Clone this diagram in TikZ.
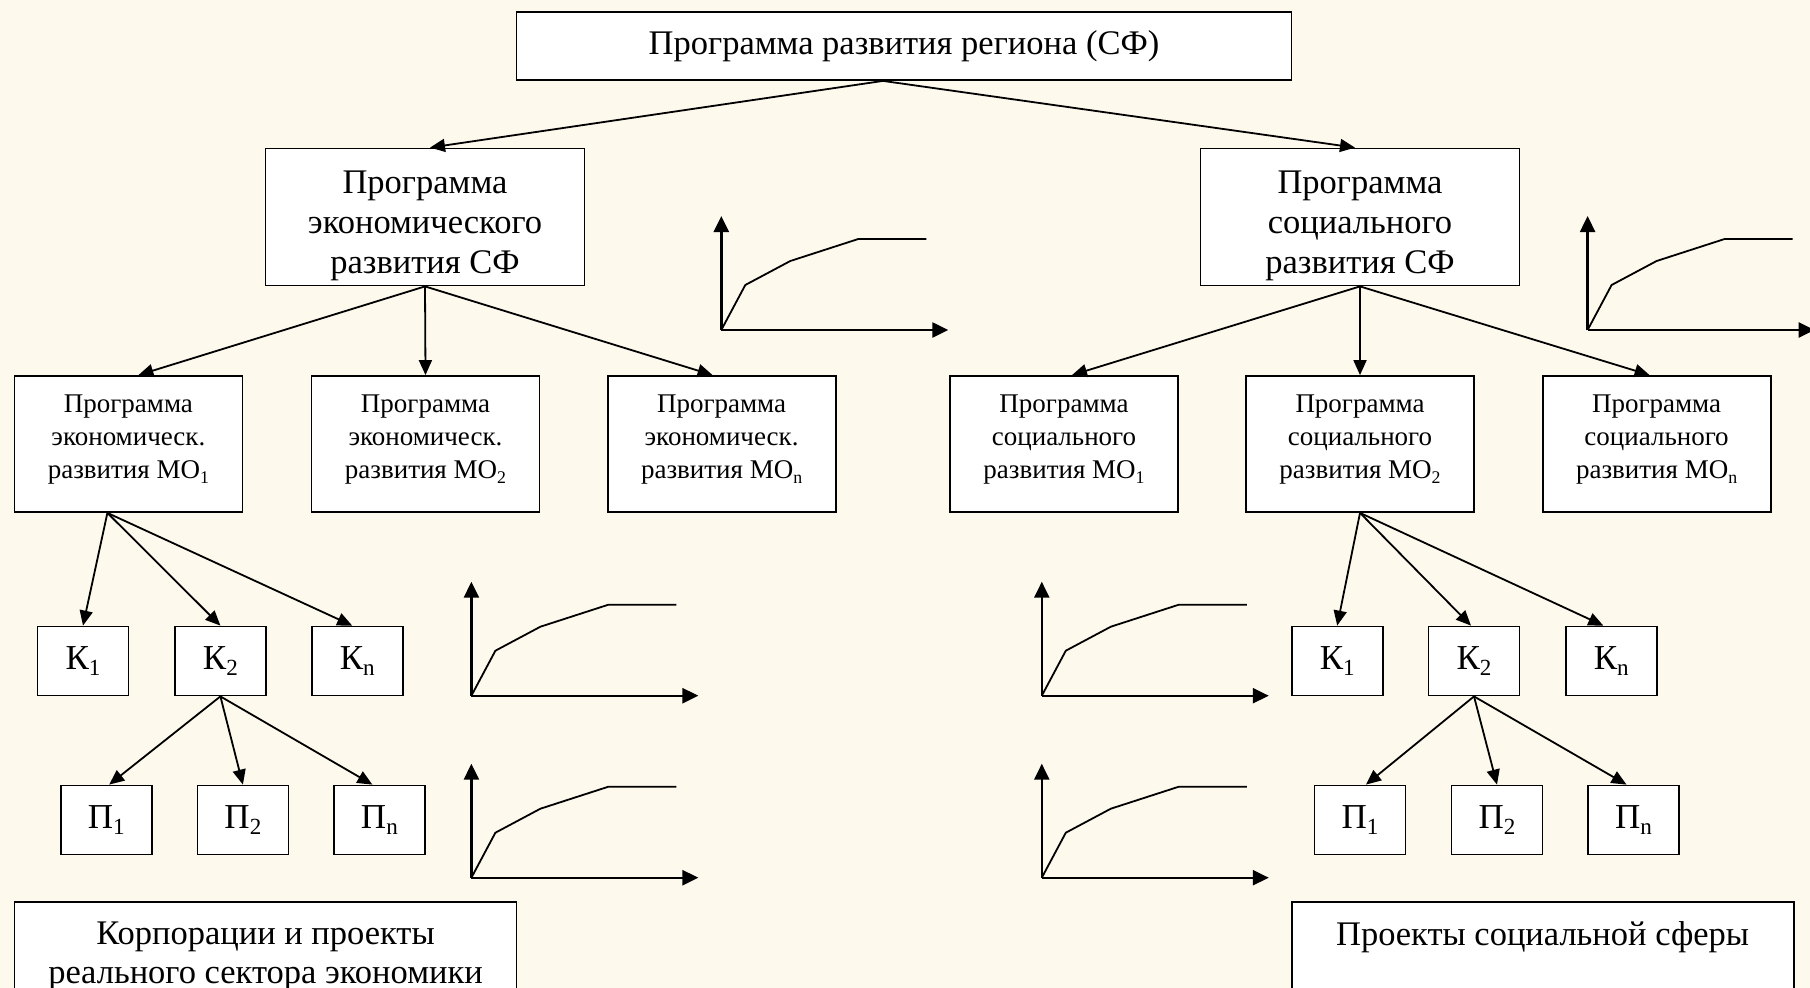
\documentclass[tikz,border=0pt]{standalone}
\usepackage{fontspec}
\setmainfont{Liberation Serif}
\usetikzlibrary{arrows.meta}
\definecolor{paper}{RGB}{253,249,237}
\newcommand{\idx}[1]{\raisebox{-0.18em}{\scalebox{0.66}{#1}}}
\newcommand{\topgap}{\rule{0pt}{40pt}}
\newcommand{\botgap}{\rule[-15pt]{0pt}{15pt}}
\tikzset{
  box/.style={draw, fill=white, line width=1.8pt, inner sep=0pt, align=center},
  bigbox/.style={box, font=\fontsize{34.5}{40}\selectfont},
  mobox/.style={box, minimum width=228pt, minimum height=136pt, font=\fontsize{27}{33}\selectfont},
  kbox/.style={box, minimum width=91pt, minimum height=69pt, font=\fontsize{35}{40}\selectfont},
  link/.style={line width=1.8pt, -{Triangle[length=15pt,width=13pt]}},
  growth/.pic={
    \draw[line width=2.4pt, -{Triangle[length=16pt,width=15pt]}] (0,0) -- (0,-114);
    \draw[line width=2.4pt, -{Triangle[length=16pt,width=15pt]}] (0,0) -- (227,0);
    \draw[line width=1.8pt] (0,0) -- (24,-45) -- (69,-69) -- (137,-91) -- (205,-91);
  }
}
\begin{document}
\begin{tikzpicture}[x=1pt,y=-1pt]
      \useasboundingbox (0,0) rectangle (1810,988);
      \clip (0,0) rectangle (1810,988);
      \fill[paper] (0,0) rectangle (1810,988);
      \node[bigbox, minimum width=775pt, minimum height=68pt] (region) at (904,46) {Программа развития региона (СФ)};
      \node[bigbox, minimum width=319pt, minimum height=137pt] (econ) at (425,217) {\topgap Программа\\экономического\\развития СФ};
      \node[bigbox, minimum width=319pt, minimum height=137pt] (soc) at (1360,217) {\topgap Программа\\социального\\развития СФ};
      \node[mobox] (emo1) at (128.4,444) {Программа\\экономическ.\\развития МО\idx{1}\botgap};
      \node[mobox] (emo2) at (425.5,444) {Программа\\экономическ.\\развития МО\idx{2}\botgap};
      \node[mobox] (emon) at (721.6,444) {Программа\\экономическ.\\развития МО\idx{n}\botgap};
      \node[mobox] (smo1) at (1064,444) {Программа\\социального\\развития МО\idx{1}\botgap};
      \node[mobox] (smo2) at (1360,444) {Программа\\социального\\развития МО\idx{2}\botgap};
      \node[mobox] (smon) at (1656.6,444) {Программа\\социального\\развития МО\idx{n}\botgap};
      \node[kbox] (ek1) at (83,661) {К\idx{1}};
      \node[kbox] (ek2) at (220.4,661) {К\idx{2}};
      \node[kbox] (ekn) at (357.2,661) {К\idx{n}};
      \node[kbox] (sk1) at (1337.2,661) {К\idx{1}};
      \node[kbox] (sk2) at (1474,661) {К\idx{2}};
      \node[kbox] (skn) at (1611.3,661) {К\idx{n}};
      \node[kbox] (ep1) at (106.2,820) {П\idx{1}};
      \node[kbox] (ep2) at (242.9,820) {П\idx{2}};
      \node[kbox] (epn) at (379.4,820) {П\idx{n}};
      \node[kbox] (sp1) at (1360,820) {П\idx{1}};
      \node[kbox] (sp2) at (1497,820) {П\idx{2}};
      \node[kbox] (spn) at (1633.5,820) {П\idx{n}};
      \node[bigbox, anchor=north, minimum width=502pt, inner ysep=20pt, font=\fontsize{34.5}{38.5}\selectfont] (corp) at (265.5,901) {Корпорации и проекты\\реального сектора экономики};
      \node[bigbox, anchor=north, minimum width=502pt, inner ysep=20pt, text depth=80pt] (socproj) at (1542.6,901) {Проекты социальной сферы};
      \begin{scope}[link]
        \draw ([xshift=-21pt]region.south) to ([xshift=5pt]econ.north);
        \draw ([xshift=-21pt]region.south) to ([xshift=-5pt]soc.north);
        \draw (econ.south) to ([xshift=10pt]emo1.north);
        \draw (econ.south) to (emo2.north);
        \draw (econ.south) to ([xshift=-9pt]emon.north);
        \draw (soc.south) to ([xshift=8pt]smo1.north);
        \draw (soc.south) to (smo2.north);
        \draw (soc.south) to ([xshift=-7pt]smon.north);
        \draw ([xshift=-21pt]emo1.south) to (ek1.north);
        \draw ([xshift=-21pt]emo1.south) to (ek2.north);
        \draw ([xshift=-21pt]emo1.south) to ([xshift=-5pt]ekn.north);
        \draw (smo2.south) to (sk1.north);
        \draw (smo2.south) to ([xshift=-3pt]sk2.north);
        \draw (smo2.south) to ([xshift=-8pt]skn.north);
        \draw (ek2.south) to ([xshift=3pt]ep1.north);
        \draw (ek2.south) to (ep2.north);
        \draw (ek2.south) to ([xshift=-7pt]epn.north);
        \draw (sk2.south) to ([xshift=6pt]sp1.north);
        \draw (sk2.south) to (sp2.north);
        \draw (sk2.south) to ([xshift=-7pt]spn.north);
      \end{scope}
      \pic at (721.3,330) {growth};
      \pic at (1587.6,330) {growth};
      \pic at (471.4,695.7) {growth};
      \pic at (471.4,877.7) {growth};
      \pic at (1041.8,695.7) {growth};
      \pic at (1041.8,877.7) {growth};
    \end{tikzpicture}
\end{document}
